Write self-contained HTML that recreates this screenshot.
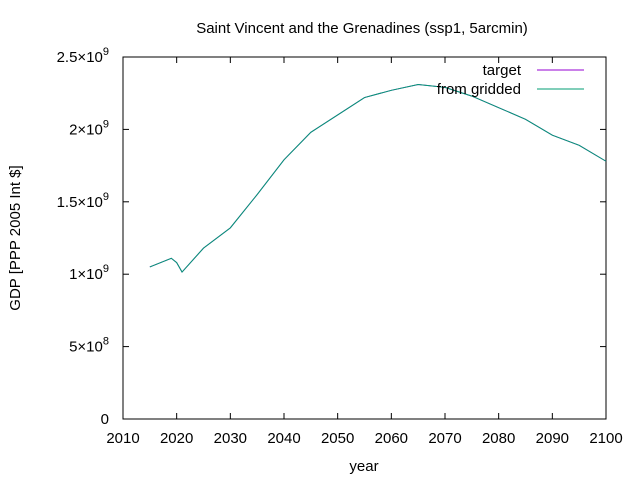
<!DOCTYPE html>
<html><head><meta charset="utf-8"><style>
body{margin:0;background:#fff}
svg text{font-family:"Liberation Sans",sans-serif;font-size:15px;fill:#000}
</style></head><body>
<svg width="640" height="480">
<g id="axes"></g>
<g id="plot"></g>
<text x="362" y="33" text-anchor="middle">Saint Vincent and the Grenadines (ssp1, 5arcmin)</text>
<text x="364" y="471" text-anchor="middle">year</text>
<text transform="translate(20,238) rotate(-90)" text-anchor="middle">GDP [PPP 2005 Int $]</text>
<g>
<text x="521" y="75" text-anchor="end">target</text>
<line x1="537" y1="70" x2="584" y2="70" stroke="#9400d3"/>
<text x="521" y="94" text-anchor="end">from gridded</text>
<line x1="537" y1="89" x2="584" y2="89" stroke="#009e73"/>
</g>
</svg>
<script>
const years=[2015,2019,2020,2021,2025,2030,2035,2040,2045,2050,2055,2060,2065,2070,2075,2080,2085,2090,2095,2100];
const target=[1.05,1.11,1.08,1.015,1.18,1.32,1.55,1.79,1.98,2.10,2.22,2.27,2.31,2.29,2.23,2.15,2.07,1.96,1.89,1.78];
const gridded=[1.05,1.11,1.08,1.015,1.18,1.32,1.55,1.79,1.98,2.10,2.22,2.27,2.31,2.29,2.23,2.15,2.07,1.96,1.89,1.78];
const xTicks=[2010,2020,2030,2040,2050,2060,2070,2080,2090,2100];
const yTicks=[0,0.5,1,1.5,2,2.5];
const yLabels=["0","5×10<tspan dy='-7' font-size='11'>8</tspan>","1×10<tspan dy='-7' font-size='11'>9</tspan>","1.5×10<tspan dy='-7' font-size='11'>9</tspan>","2×10<tspan dy='-7' font-size='11'>9</tspan>","2.5×10<tspan dy='-7' font-size='11'>9</tspan>"];
const L=123,R=606,T=57,B=419;
const X=v=>L+(v-2010)/90*(R-L);
const Y=v=>B-v/2.5*(B-T);
const ns="http://www.w3.org/2000/svg";
const ax=document.getElementById('axes'),pl=document.getElementById('plot');
let h='<rect x="'+L+'" y="'+T+'" width="'+(R-L)+'" height="'+(B-T)+'" fill="none" stroke="#000"/>';
xTicks.forEach(t=>{const x=X(t);h+=`<line x1="${x}" y1="${B}" x2="${x}" y2="${B-6}" stroke="#000"/><line x1="${x}" y1="${T}" x2="${x}" y2="${T+6}" stroke="#000"/><text x="${x}" y="${B+24}" text-anchor="middle">${t}</text>`;});
yTicks.forEach((t,i)=>{const y=Y(t);h+=`<line x1="${L}" y1="${y}" x2="${L+6}" y2="${y}" stroke="#000"/><line x1="${R}" y1="${y}" x2="${R-6}" y2="${y}" stroke="#000"/><text x="${L-14}" y="${y+5}" text-anchor="end">${yLabels[i]}</text>`;});
ax.innerHTML=h;
function line(d,c,name){const p=document.createElementNS(ns,'polyline');
p.setAttribute('points',years.map((yr,i)=>X(yr)+','+Y(d[i])).join(' '));
p.setAttribute('fill','none');p.setAttribute('stroke',c);


pl.appendChild(p);}
line(target,'#9400d3','target-line');
line(gridded,'#009e73','gridded-line');
</script>
</body></html>
